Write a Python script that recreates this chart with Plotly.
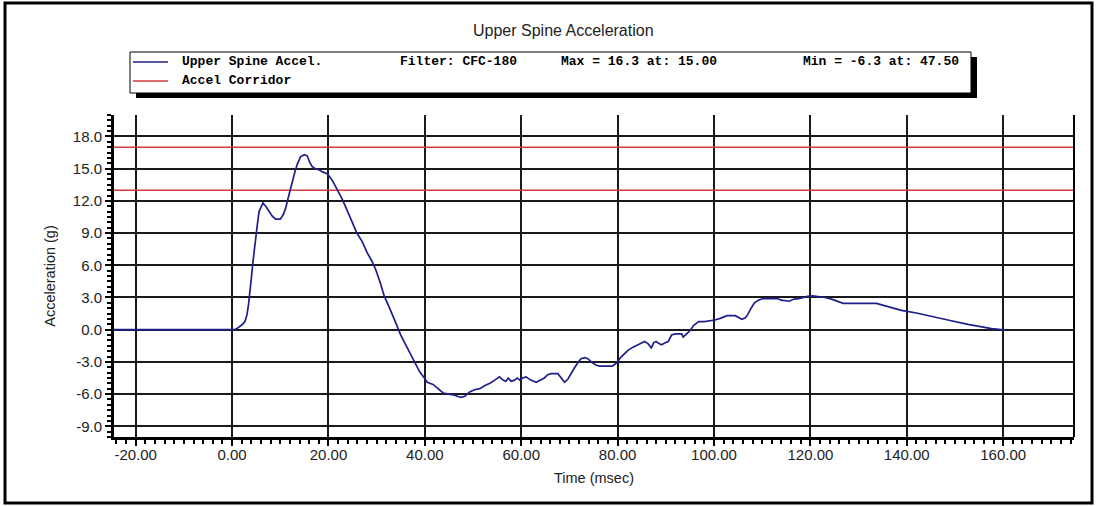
import plotly.graph_objects as go

# Upper spine acceleration trace: time (msec) and acceleration (g)
time_ms = [
    -25.0, 0.5, 1.0, 1.6, 2.2, 2.7, 3.1, 3.4, 3.7, 4.0, 4.3, 4.6, 4.9, 5.3, 5.6,
    6.0, 6.4, 7.0, 7.6, 8.3, 9.0, 10.0, 10.6, 11.1, 11.6, 12.1, 12.6, 13.1, 13.6,
    14.2, 15.0, 15.6, 16.1, 16.6, 17.2, 18.0, 18.8, 19.8, 20.8, 21.8, 22.8, 23.9,
    24.9, 25.9, 27.0, 28.0, 29.0, 29.8, 30.8, 31.6, 32.6, 33.4, 34.1, 35.0, 36.0,
    36.8, 37.8, 38.9, 39.9, 40.5, 41.7, 42.7, 43.8, 45.0, 46.2, 47.0, 47.5, 48.3,
    48.8, 49.3, 50.3, 51.4, 52.5, 53.5, 54.5, 55.5, 56.2, 56.8, 57.3, 57.9, 58.6,
    59.2, 59.7, 60.3, 61.0, 62.0, 63.1, 64.0, 64.8, 65.5, 66.2, 67.6, 68.3, 69.0,
    69.7, 70.4, 71.0, 71.7, 72.4, 73.2, 73.8, 74.8, 75.5, 76.2, 78.9, 79.5, 80.0,
    80.6, 81.4, 82.2, 83.1, 84.5, 85.6, 86.3, 87.0, 87.5, 88.0, 88.6, 89.1, 90.0,
    90.5, 91.2, 92.0, 93.3, 93.6, 94.3, 95.0, 95.8, 96.8, 98.0, 99.2, 100.2, 101.3,
    102.7, 104.4, 105.2, 105.8, 106.5, 107.0, 107.7, 108.4, 109.2, 110.2, 113.2,
    113.9, 115.6, 116.6, 117.6, 119.4, 120.5, 122.0, 123.0, 124.4, 125.5, 126.8,
    133.7, 136.0, 138.9, 142.0, 145.8, 149.0, 152.7, 155.0, 157.6, 160.5,
]
accel_g = [
    0.0, 0.0, 0.1, 0.3, 0.5, 0.8, 1.4, 2.3, 3.3, 4.8, 6.2, 7.5, 8.7, 10.0, 11.0,
    11.5, 11.8, 11.5, 11.1, 10.6, 10.3, 10.3, 10.7, 11.3, 12.2, 13.1, 14.0, 14.8, 15.5,
    16.1, 16.3, 16.2, 15.6, 15.2, 15.0, 14.9, 14.7, 14.5, 13.9, 13.1, 12.2, 11.1,
    10.0, 9.0, 8.2, 7.2, 6.4, 5.6, 4.3, 3.1, 2.1, 1.3, 0.5, -0.5, -1.4,
    -2.0, -3.0, -3.9, -4.5, -4.9, -5.1, -5.5, -5.9, -6.0, -6.1, -6.25, -6.3, -6.2,
    -6.0, -5.8, -5.6, -5.5, -5.2, -5.0, -4.7, -4.4, -4.7, -4.8, -4.5, -4.8, -4.7,
    -4.5, -4.7, -4.5, -4.4, -4.7, -4.9, -4.7, -4.5, -4.2, -4.1, -4.1, -4.5, -4.9,
    -4.6, -4.0, -3.6, -3.1, -2.7, -2.6, -2.7, -3.1, -3.3, -3.4, -3.4, -3.2, -3.0,
    -2.6, -2.2, -1.9, -1.65, -1.35, -1.1, -1.3, -1.7, -1.2, -1.1, -1.3, -1.4, -1.2,
    -1.1, -0.5, -0.4, -0.4, -0.7, -0.4, -0.1, 0.4, 0.75, 0.75, 0.8, 0.9, 1.05,
    1.3, 1.3, 1.1, 0.97, 1.1, 1.4, 2.0, 2.5, 2.75, 2.9, 2.9,
    2.75, 2.65, 2.85, 2.9, 3.1, 3.15, 3.1, 3.0, 2.85, 2.65, 2.45,
    2.45, 2.15, 1.8, 1.55, 1.15, 0.85, 0.5, 0.3, 0.1, -0.05,
]

# Acceleration corridor limits (g)
corridor_levels = [13.0, 17.0]

# Axis extents and ticks
x_range = [-24.5, 174.7]
y_range = [-10, 20]
x_tick_vals = [-20, 0, 20, 40, 60, 80, 100, 120, 140, 160]
x_tick_text = ["-20.00", "0.00", "20.00", "40.00", "60.00", "80.00",
               "100.00", "120.00", "140.00", "160.00"]
y_tick_vals = [-9, -6, -3, 0, 3, 6, 9, 12, 15, 18]
y_tick_text = ["-9.0", "-6.0", "-3.0", "0.0", "3.0", "6.0", "9.0",
               "12.0", "15.0", "18.0"]

chart_title = "Upper Spine Acceleration"
series_name = "Upper Spine Accel."
corridor_name = "Accel Corridor"
filter_label = "Filter: CFC-180"

# Peak values reported in the header box
i_max = max(range(len(accel_g)), key=lambda i: accel_g[i])
i_min = min(range(len(accel_g)), key=lambda i: accel_g[i])
max_label = f"Max = {accel_g[i_max]:.1f} at: {time_ms[i_max]:.2f}"
min_label = f"Min = {accel_g[i_min]:.1f} at: {time_ms[i_min]:.2f}"

BLUE = "#1f1f8c"
RED = "#d23c3c"

# Plot-area placement in pixels
W, H = 1098, 506
L, R, T, B = 114, 1074, 115, 437


def fx(px):
    return (px - L) / (R - L)


def fy(py):
    return (B - py) / (B - T)


fig = go.Figure()

# Corridor limits span the full time axis
for level in corridor_levels:
    fig.add_trace(go.Scatter(x=x_range, y=[level, level], mode="lines",
                             line=dict(color=RED, width=1.5),
                             name=corridor_name, showlegend=False,
                             hoverinfo="skip"))

fig.add_trace(go.Scatter(x=time_ms, y=accel_g, mode="lines",
                         line=dict(color=BLUE, width=1.7),
                         name=series_name, showlegend=False))

tick_font = dict(family="Liberation Sans, Arial, sans-serif", size=15, color="#222")
title_font = dict(family="Liberation Sans, Arial, sans-serif", size=14.5, color="#222")

fig.update_layout(
    width=W, height=H,
    margin=dict(l=L, r=W - R, t=T, b=H - B, pad=0),
    paper_bgcolor="white", plot_bgcolor="white",
    showlegend=False,
    xaxis=dict(
        range=x_range, tickmode="array",
        tickvals=x_tick_vals, ticktext=x_tick_text,
        ticks="outside", ticklen=6, tickwidth=1.5, tickcolor="black",
        ticklabelstandoff=-4,
        showline=True, linecolor="black", linewidth=3,
        showgrid=True, gridcolor="#1a1a1a", gridwidth=1.8,
        zeroline=False, tickfont=tick_font,
        minor=dict(tickmode="linear", tick0=0, dtick=2, ticks="outside",
                   ticklen=4, tickwidth=1.5, tickcolor="black", showgrid=False),
        title=dict(text="Time (msec)", font=title_font, standoff=11),
    ),
    yaxis=dict(
        range=y_range, tickmode="array",
        tickvals=y_tick_vals, ticktext=y_tick_text,
        ticks="outside", ticklen=6, tickwidth=1.5, tickcolor="black",
        showline=True, linecolor="black", linewidth=3,
        showgrid=True, gridcolor="#1a1a1a", gridwidth=1.8,
        zeroline=False, tickfont=tick_font,
        minor=dict(tickmode="linear", tick0=0, dtick=0.5, ticks="outside",
                   ticklen=4, tickwidth=1.5, tickcolor="black", showgrid=False),
        title=dict(text="Acceleration (g)", font=title_font, standoff=14),
    ),
)

# Right border of the plotting area
fig.add_shape(type="line", xref="x domain", yref="y domain",
              x0=1, x1=1, y0=0, y1=1, line=dict(color="black", width=2))

# Outer frame
fig.add_shape(type="rect", xref="paper", yref="paper",
              x0=fx(5), x1=fx(1092), y0=fy(503), y1=fy(3),
              line=dict(color="black", width=3), fillcolor="rgba(0,0,0,0)")

# Header box with drop shadow
fig.add_shape(type="rect", xref="paper", yref="paper",
              x0=fx(136), x1=fx(977), y0=fy(98), y1=fy(57),
              line=dict(width=0), fillcolor="black")
fig.add_shape(type="rect", xref="paper", yref="paper",
              x0=fx(130), x1=fx(971), y0=fy(93), y1=fy(52),
              line=dict(color="black", width=1), fillcolor="white")

# Line samples in the header box
fig.add_shape(type="line", xref="paper", yref="paper",
              x0=fx(133), x1=fx(168), y0=fy(62), y1=fy(62),
              line=dict(color=BLUE, width=1.5))
fig.add_shape(type="line", xref="paper", yref="paper",
              x0=fx(133), x1=fx(168), y0=fy(81), y1=fy(81),
              line=dict(color=RED, width=1.5))

mono = dict(family="Liberation Mono, Courier New, monospace", size=13,
            color="black", weight="bold")
header_items = [
    (series_name, 180, 62),
    (filter_label, 398, 62),
    (max_label, 559, 62),
    (min_label, 801, 62),
    (corridor_name, 180, 81),
]
for text, px, py in header_items:
    fig.add_annotation(text=text, xref="paper", yref="paper",
                       x=fx(px), y=fy(py), xanchor="left", yanchor="middle",
                       showarrow=False, font=mono)

fig.add_annotation(text=chart_title, xref="paper", yref="paper",
                   x=fx(563), y=fy(31), xanchor="center", yanchor="middle",
                   showarrow=False,
                   font=dict(family="Liberation Sans, Arial, sans-serif",
                             size=16, color="#222"))

fig.write_html("out.html")
